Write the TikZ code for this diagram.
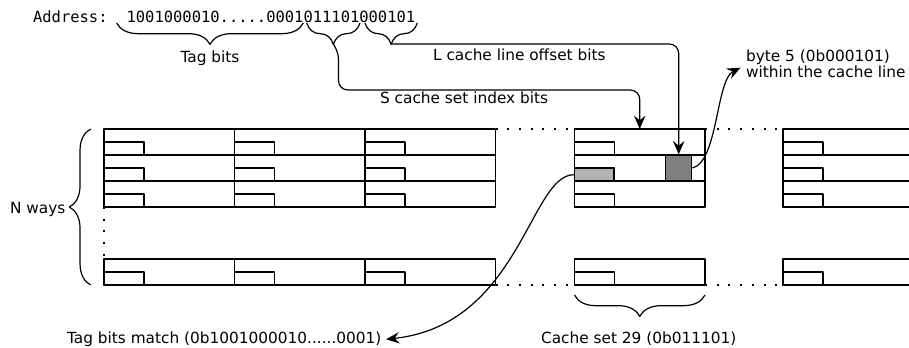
\documentclass[tikz,border=0pt]{standalone}
\usepackage{fontspec}
\setmainfont{DejaVu Sans}
\setmonofont{DejaVu Sans Mono}
\usetikzlibrary{arrows.meta,decorations.pathreplacing,calc}
\tikzset{
    cacheset/.pic = {
    \foreach \r in {0,26,52,130} {
    \draw (0,\r) rectangle (130.5,\r+26);
    \draw (0,\r+13) rectangle (40,\r+26);
    }
    },
    lbl/.style = {font=\fontsize{11.5pt}{12.5pt}\selectfont, inner sep=0pt},
    mono/.style = {lbl, font=\fontsize{11.6pt}{13pt}\selectfont\ttfamily},
    brc/.style = {decorate, decoration={brace, amplitude=16pt}},
    brcdown/.style = {decorate, decoration={brace, mirror, amplitude=16pt}},
    arr/.style = {-{Stealth[length=10pt,width=8.5pt,inset=3.5pt]}},
    dots/.style = {line width=1.6pt, dash pattern=on 1.5pt off 7.3pt},
}

\begin{document}
\begin{tikzpicture}[x=0.75pt,y=-0.75pt,line width=0.9pt,line join=round]
\useasboundingbox (0,0) rectangle (909,347);

\node[mono, anchor=base west] (addr) at (32.5,22.7) {Address:};
\node[mono, anchor=base west] (bits) at (126,22.7) {1001000010.....0001011101000101};

\draw[brcdown] (116.7,23) -- (303.3,23);
\draw[brcdown] (306.7,23) -- (360,23);
\draw[brcdown] (365,23) -- (417.3,23);
\coordinate (stip) at (333.5,44);
\coordinate (ltip) at (391.2,44);

\node[lbl, anchor=base] (tag) at (210,62.7) {Tag bits};
\node[lbl, anchor=base west] (offlbl) at (432.5,60.7) {L cache line offset bits};
\node[lbl, anchor=base west] (idxlbl) at (379.5,103.3) {S cache set index bits};
\node[lbl, anchor=base west, align=left] (bytelbl) at (745.5,77.7) {byte 5 (0b000101)\\within the cache line};

\path (104,129) pic {cacheset};
\path (234.5,129) pic {cacheset};
\path (365,129) pic {cacheset};
\path (574.5,129) pic {cacheset};
\path (783,129) pic {cacheset};

\draw[dots] (495.5,129) -- (574.5,129);
\draw[dots] (495.5,285) -- (574.5,285);
\draw[dots] (705,129) -- (783,129);
\draw[dots] (705,285) -- (783,285);
\draw[dots] (104,207) -- (104,259);

\node[draw, fill=black!50, minimum width=19.5pt, minimum height=19.5pt, inner sep=0pt] (byte) at (678.7,168) {};
\node[draw, fill=black!30, minimum width=29.25pt, minimum height=9.5pt, inner sep=0pt] (tagbox) at (594.3,174.7) {};
\coordinate (settop) at (639.7,129);
\coordinate (sturn) at (639.7,90);

\draw[arr, rounded corners=7pt] (stip) -- ++(5,6) |- (sturn) -- (settop);
\draw[arr, rounded corners=7pt] (ltip) -| (byte.north);
\draw[arr] (byte.east) .. controls (718,162) and (716,80) .. ($(bytelbl.west)+(-5,4)$);

\draw[brc] (90.7,285) -- (90.7,129);
\node[lbl, anchor=base west] (nways) at (9.5,213.3) {N ways};

\draw[brcdown] (574.5,295) -- (705,295);
\node[lbl, anchor=base] (setlbl) at (638.7,343.3) {Cache set 29 (0b011101)};

\node[lbl, anchor=base west] (match) at (66.5,343.5) {Tag bits match (0b1001000010......0001)};
\draw[arr] (tagbox.west) .. controls (530,174) and (520,325) .. ($(match.east)+(4,0)$);
\end{tikzpicture}
\end{document}
